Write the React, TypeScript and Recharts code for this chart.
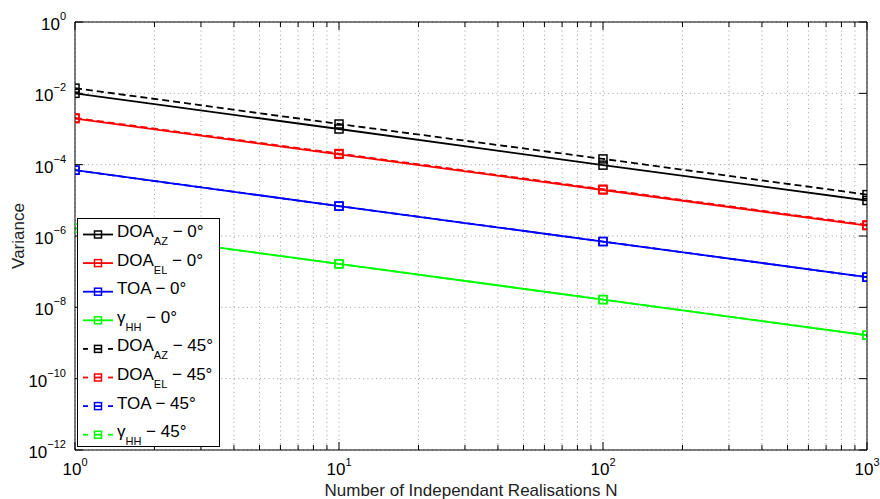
import { LineChart, Line, XAxis, YAxis, CartesianGrid, Legend } from "recharts"

const FONT = "'Liberation Sans', Arial, Helvetica, sans-serif"

// number of independent realisations
const realisations = [1, 10, 100, 1000]

// variance per estimator, 0° and 45° cases
const doaAz0 = [1.0e-2, 1.0e-3, 9.7e-5, 9.9e-6]
const doaEl0 = [1.95e-3, 1.95e-4, 1.95e-5, 1.95e-6]
const toa0 = [7.0e-5, 6.9e-6, 7.0e-7, 7.0e-8]
const gamma0 = [1.65e-6, 1.65e-7, 1.65e-8, 1.65e-9]
const doaAz45 = [1.4e-2, 1.38e-3, 1.45e-4, 1.45e-5]
const doaEl45 = [2.05e-3, 2.05e-4, 2.05e-5, 2.05e-6]
const toa45 = [7.0e-5, 6.9e-6, 7.0e-7, 7.0e-8]
const gamma45 = [1.65e-6, 1.65e-7, 1.65e-8, 1.65e-9]

const xTicks = [
  1, 2, 3, 4, 5, 6, 7, 8, 9,
  10, 20, 30, 40, 50, 60, 70, 80, 90,
  100, 200, 300, 400, 500, 600, 700, 800, 900,
  1000,
]
const yTicks = [1e-12, 1e-10, 1e-8, 1e-6, 1e-4, 1e-2, 1]

const series = [
  { key: "doaAz0", values: doaAz0, label: "DOA", sub: "AZ", suffix: " − 0°", color: "#000000", dashed: false },
  { key: "doaEl0", values: doaEl0, label: "DOA", sub: "EL", suffix: " − 0°", color: "#ff0000", dashed: false },
  { key: "toa0", values: toa0, label: "TOA − 0°", sub: "", suffix: "", color: "#0000ff", dashed: false },
  { key: "gamma0", values: gamma0, label: "γ", sub: "HH", suffix: " − 0°", color: "#00ff00", dashed: false },
  { key: "doaAz45", values: doaAz45, label: "DOA", sub: "AZ", suffix: " − 45°", color: "#000000", dashed: true },
  { key: "doaEl45", values: doaEl45, label: "DOA", sub: "EL", suffix: " − 45°", color: "#ff0000", dashed: true },
  { key: "toa45", values: toa45, label: "TOA − 45°", sub: "", suffix: "", color: "#0000ff", dashed: true },
  { key: "gamma45", values: gamma45, label: "γ", sub: "HH", suffix: " − 45°", color: "#00ff00", dashed: true },
]

const data = realisations.map((n, i) => {
  const row: Record<string, number> = { n }
  series.forEach((s) => {
    row[s.key] = s.values[i]
  })
  return row
})

const isDecade = (v: number) => Math.abs(Math.log10(v) - Math.round(Math.log10(v))) < 1e-9
const expText = (v: number) => {
  const e = Math.round(Math.log10(v))
  return e < 0 ? `−${-e}` : `${e}`
}

function BottomTick(props: any) {
  const { x, y, payload } = props
  const major = isDecade(payload.value)
  return (
    <g>
      <line x1={x} x2={x} y1={y} y2={y - (major ? 8 : 5)} stroke="#000" />
      {major && (
        <text x={x} y={y + 25} textAnchor="middle" fontSize={17} fontFamily={FONT} fill="#000">
          10<tspan dy={-9} fontSize={11}>{expText(payload.value)}</tspan>
        </text>
      )}
    </g>
  )
}

function TopTick(props: any) {
  const { x, y, payload } = props
  const major = isDecade(payload.value)
  return <line x1={x} x2={x} y1={y} y2={y + (major ? 8 : 5)} stroke="#000" />
}

function LeftTick(props: any) {
  const { x, y, payload } = props
  return (
    <g>
      <line x1={x} x2={x + 8} y1={y} y2={y} stroke="#000" />
      <text x={x - 9} y={y + 8} textAnchor="end" fontSize={17} fontFamily={FONT} fill="#000">
        10<tspan dy={-10} fontSize={11}>{expText(payload.value)}</tspan>
      </text>
    </g>
  )
}

function RightTick(props: any) {
  const { x, y } = props
  return <line x1={x} x2={x - 8} y1={y} y2={y} stroke="#000" />
}

function squareDot(color: string) {
  return (props: any) => {
    const { cx, cy, index } = props
    return (
      <rect
        key={`sq-${index}`}
        x={cx - 4}
        y={cy - 4}
        width={8}
        height={8}
        fill="none"
        stroke={color}
        strokeWidth={1.5}
      />
    )
  }
}

function SeriesLegend() {
  return (
    <svg width={143} height={229} style={{ display: "block" }}>
      <rect x={0.5} y={0.5} width={142} height={228} fill="#fff" stroke="#000" />
      {series.map((s, i) => {
        const yb = 19 + i * 28.6
        const cy = yb - 2.5
        return (
          <g key={s.key}>
            {s.dashed ? (
              <g stroke={s.color} strokeWidth={1.8}>
                <line x1={6} x2={11} y1={cy} y2={cy} />
                <line x1={17} x2={25} y1={cy} y2={cy} />
                <line x1={31} x2={36} y1={cy} y2={cy} />
              </g>
            ) : (
              <line x1={6} x2={36} y1={cy} y2={cy} stroke={s.color} strokeWidth={1.8} />
            )}
            <rect x={17.5} y={cy - 3.5} width={7} height={7} fill="none" stroke={s.color} strokeWidth={1.5} />
            <text x={40} y={yb} fontSize={17} fontFamily={FONT} fill="#000">
              {s.label}
              {s.sub && (
                <tspan dy={8} fontSize={11}>
                  {s.sub}
                </tspan>
              )}
              {s.suffix && (
                <tspan dy={-8} fontSize={17}>
                  {s.suffix}
                </tspan>
              )}
            </text>
          </g>
        )
      })}
    </svg>
  )
}

export default function App() {
  return (
    <div style={{ position: "absolute", left: 0, top: 0, width: 880, height: 499, background: "#fff" }}>
      <LineChart width={880} height={499} data={data} margin={{ top: 0, right: 0, bottom: 0, left: 0 }}>
        <CartesianGrid stroke="#9a9a9a" strokeDasharray="1 3.3" />
        <XAxis
          dataKey="n"
          type="number"
          scale="log"
          domain={[1, 1000]}
          allowDataOverflow
          ticks={xTicks}
          interval={0}
          height={49}
          tickSize={0}
          tickMargin={0}
          tickLine={false}
          tick={<BottomTick />}
          axisLine={{ stroke: "#000" }}
          label={() => (
            <text x={471} y={496} textAnchor="middle" fontSize={17} fontFamily={FONT} fill="#222">
              Number of Independant Realisations N
            </text>
          )}
        />
        <XAxis
          xAxisId="top"
          orientation="top"
          dataKey="n"
          type="number"
          scale="log"
          domain={[1, 1000]}
          allowDataOverflow
          ticks={xTicks}
          interval={0}
          height={22}
          tickSize={0}
          tickMargin={0}
          tickLine={false}
          tick={<TopTick />}
          axisLine={{ stroke: "#000" }}
        />
        <YAxis
          type="number"
          scale="log"
          domain={[1e-12, 1]}
          allowDataOverflow
          ticks={yTicks}
          interval={0}
          width={75}
          tickSize={0}
          tickMargin={0}
          tickLine={false}
          tick={<LeftTick />}
          axisLine={{ stroke: "#000" }}
          label={() => (
            <text
              x={18}
              y={236}
              transform="rotate(-90 18 236)"
              textAnchor="middle"
              dominantBaseline="central"
              fontSize={17}
              fontFamily={FONT}
              fill="#222"
            >
              Variance
            </text>
          )}
        />
        <YAxis
          yAxisId="right"
          orientation="right"
          type="number"
          scale="log"
          domain={[1e-12, 1]}
          allowDataOverflow
          ticks={yTicks}
          interval={0}
          width={13}
          tickSize={0}
          tickMargin={0}
          tickLine={false}
          tick={<RightTick />}
          axisLine={{ stroke: "#000" }}
        />
        {series.map((s) => (
          <Line
            key={s.key}
            dataKey={s.key}
            type="linear"
            stroke={s.color}
            strokeWidth={1.8}
            strokeDasharray={s.dashed ? "7 4" : undefined}
            dot={squareDot(s.color)}
            activeDot={false}
            isAnimationActive={false}
          />
        ))}
        <Legend
          layout="horizontal"
          verticalAlign="middle"
          align="center"
          wrapperStyle={{ left: 77, top: 218, width: 143, height: 229 }}
          content={() => <SeriesLegend />}
        />
      </LineChart>
    </div>
  )
}
